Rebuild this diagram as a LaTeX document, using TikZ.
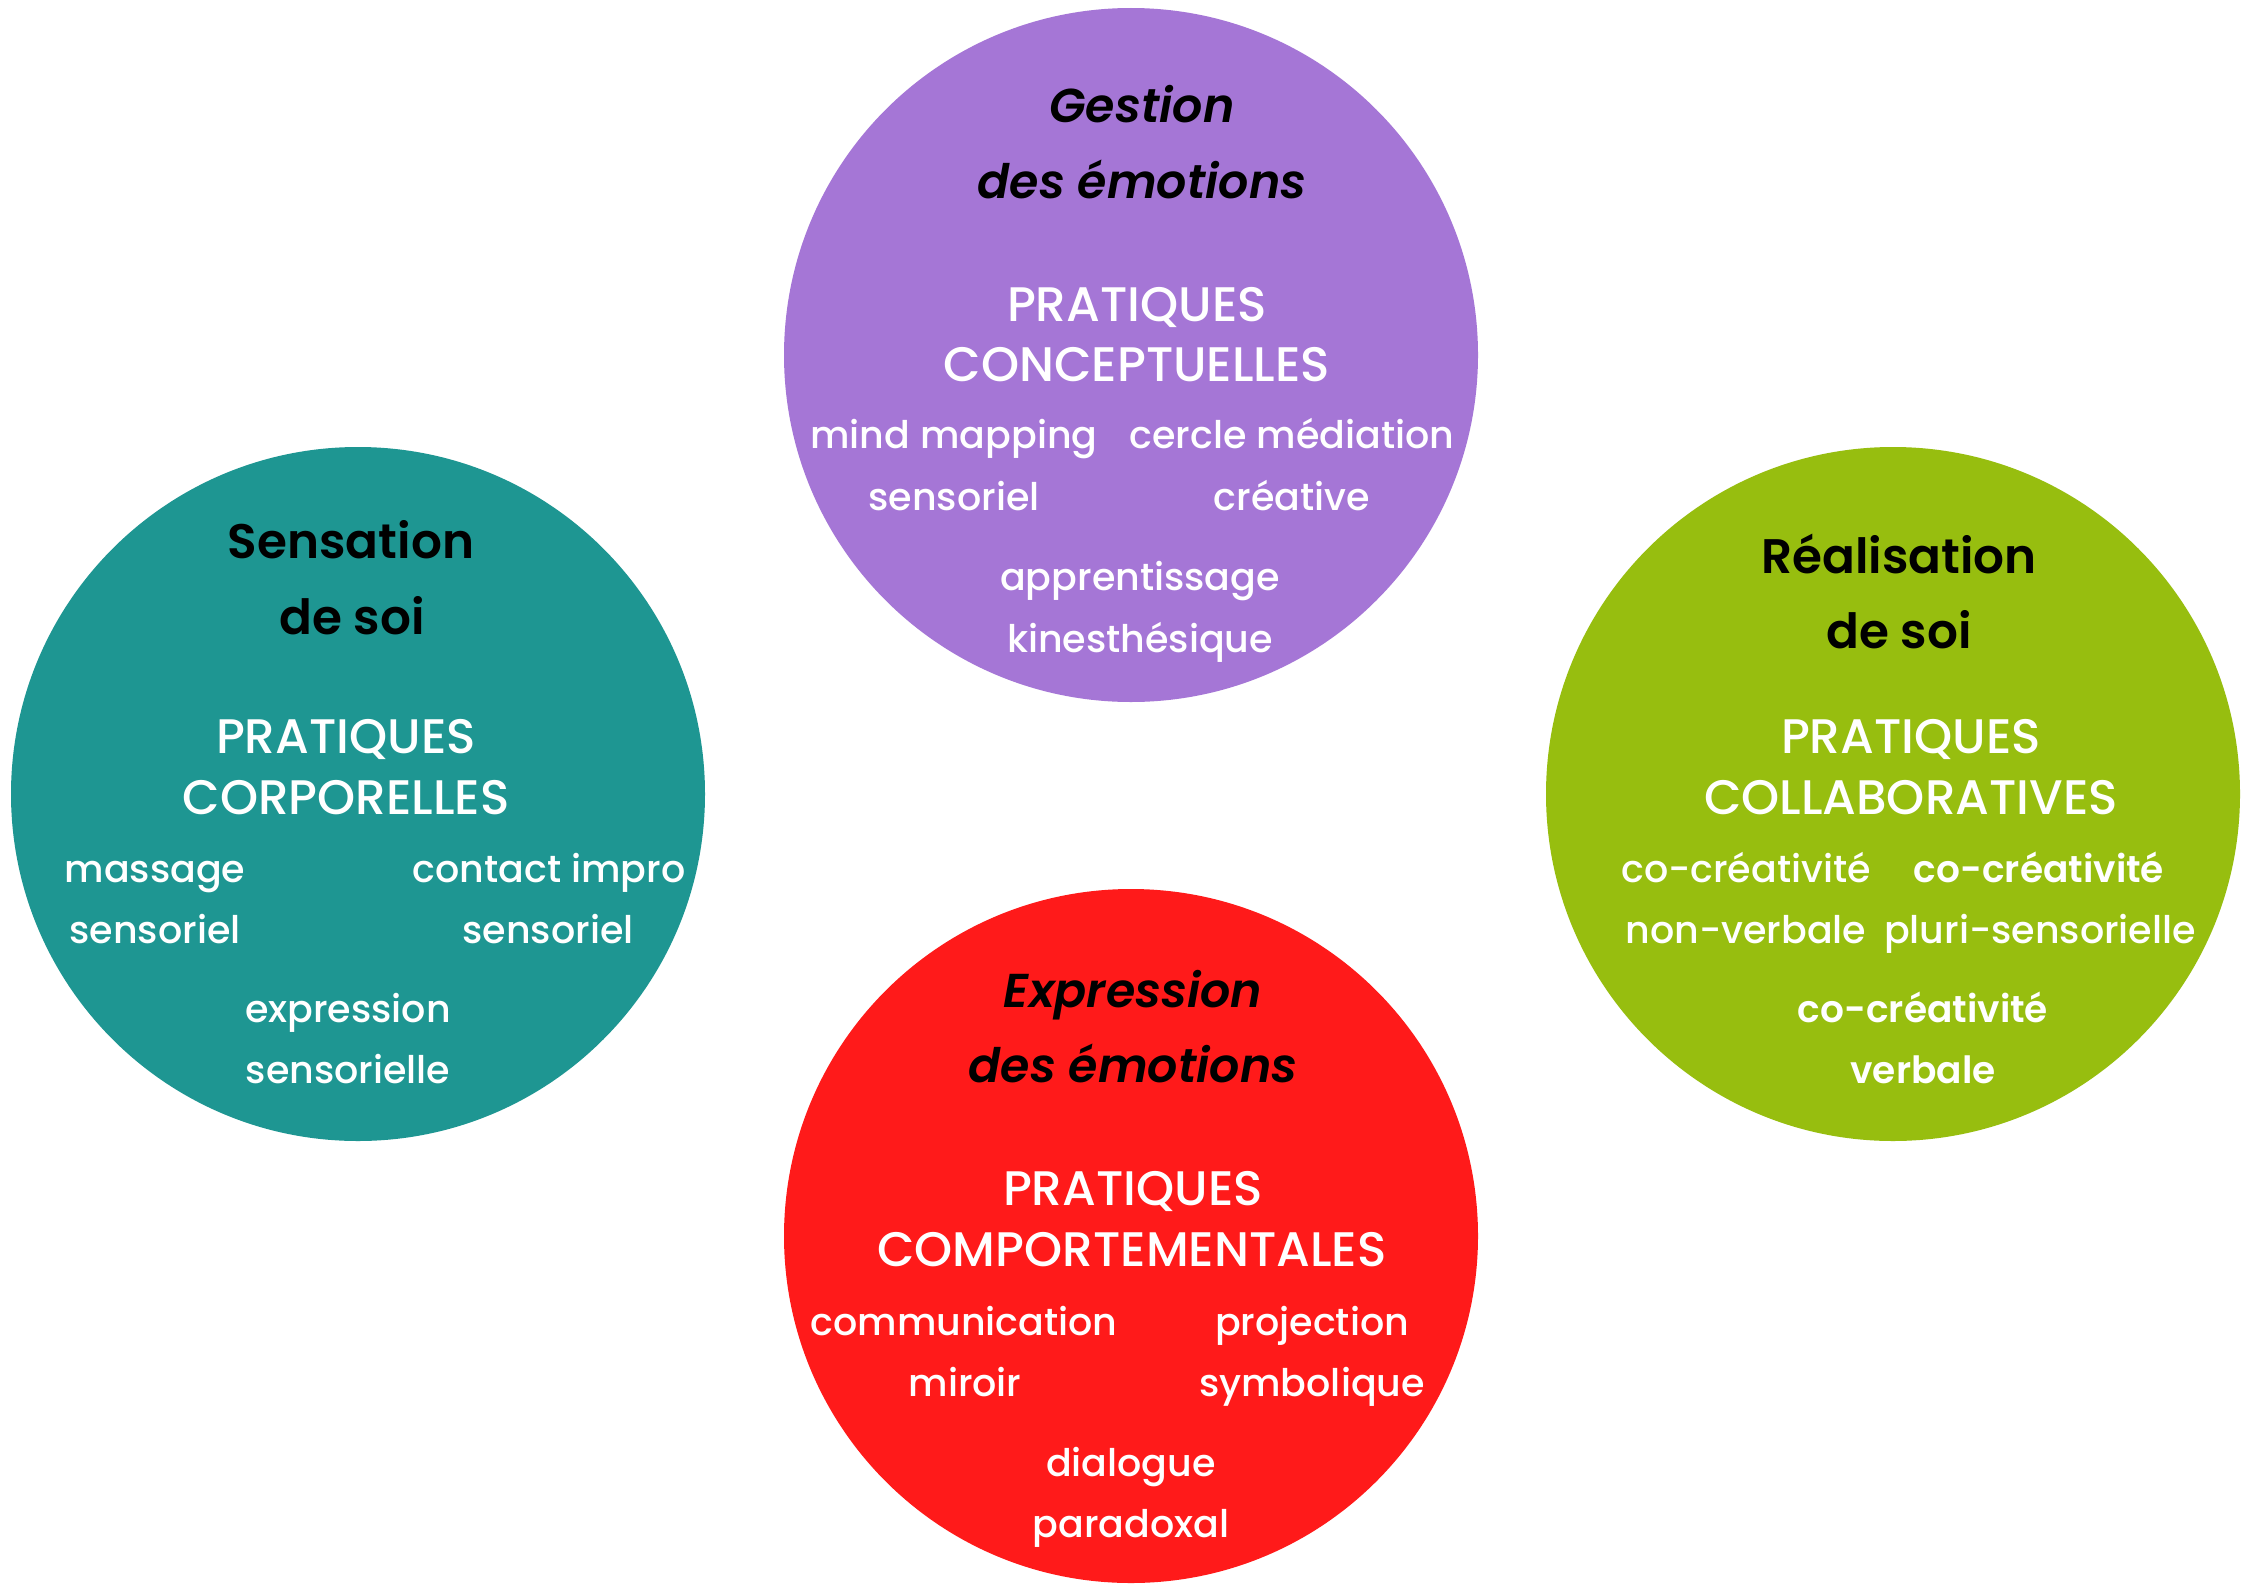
\documentclass[tikz,border=0pt]{standalone}
\usepackage{fontspec}
\setmainfont{Poppins}[BoldFont={Poppins SemiBold},BoldItalicFont={Poppins SemiBold Italic}]
\newfontfamily\pmed{Poppins Medium}
\definecolor{cpurple}{HTML}{A576D6}
\definecolor{cteal}{HTML}{1E9692}
\definecolor{cgreen}{HTML}{97BE0F}
\definecolor{cred}{HTML}{FF1A1A}
\begin{document}
\begin{tikzpicture}[x=1pt,y=-1pt,
  disc/.style={circle, minimum size=694pt, inner sep=0pt, draw=none},
  ttl/.style={anchor=base, text=black, font=\fontsize{48.5}{48.5}\selectfont\bfseries},
  ttli/.style={anchor=base, text=black, font=\fontsize{47.5}{47.5}\selectfont\bfseries\itshape},
  cat/.style={anchor=base, text=white, font=\fontsize{48.5}{48.5}\pmed\selectfont},
  item/.style={anchor=base, text=white, font=\fontsize{38}{38}\pmed\selectfont},
  itemb/.style={anchor=base, text=white, font=\fontsize{37.5}{37.5}\selectfont\bfseries}]
\useasboundingbox (0,0) rectangle (2245,1587);
\fill[white] (0,0) rectangle (2245,1587);
% discs
\node[disc, fill=cpurple] (gestion) at (1131,355) {};
\node[disc, fill=cteal] (sensation) at (358,794) {};
\node[disc, fill=cgreen] (realisation) at (1893,794) {};
\node[disc, fill=cred] (expression) at (1131,1236) {};
% Gestion des émotions
\node[ttli] (g1) at (1142,122) {Gestion};
\node[ttli] (g2) at (1142,198) {des émotions};
\node[cat] (g3) at (1137,321) {PRATIQUES};
\node[cat] (g4) at (1137,381) {CONCEPTUELLES};
\node[item] (g5) at (954,448) {mind mapping};
\node[item] (g6) at (954,510) {sensoriel};
\node[item] (g7) at (1292,448) {cercle médiation};
\node[item] (g8) at (1292,510) {créative};
\node[item] (g9) at (1140,590) {apprentissage};
\node[item] (g10) at (1140,652) {kinesthésique};
% Sensation de soi
\node[ttl] (s1) at (351,558) {Sensation};
\node[ttl] (s2) at (352,634) {de soi};
\node[cat] (s3) at (346,753) {PRATIQUES};
\node[cat] (s4) at (346,814) {CORPORELLES};
\node[item] (s5) at (155,882) {massage};
\node[item] (s6) at (155,943) {sensoriel};
\node[item] (s7) at (549,882) {contact impro};
\node[item] (s8) at (548,943) {sensoriel};
\node[item] (s9) at (348,1022) {expression};
\node[item] (s10) at (348,1083) {sensorielle};
% Réalisation de soi
\node[ttl] (r1) at (1899,573) {Réalisation};
\node[ttl] (r2) at (1899,648) {de soi};
\node[cat] (r3) at (1911,753) {PRATIQUES};
\node[cat] (r4) at (1911,814) {COLLABORATIVES};
\node[item] (r5) at (1746,882) {co-créativité};
\node[item] (r6) at (1746,943) {non-verbale};
\node[itemb] (r7) at (2039,882) {co-créativité};
\node[item] (r8) at (2040,943) {pluri-sensorielle};
\node[itemb] (r9) at (1923,1022) {co-créativité};
\node[itemb] (r10) at (1923,1083) {verbale};
% Expression des émotions
\node[ttli] (e1) at (1133,1007) {Expression};
\node[ttli] (e2) at (1133,1082) {des émotions};
\node[cat] (e3) at (1133,1205) {PRATIQUES};
\node[cat] (e4) at (1132,1266) {COMPORTEMENTALES};
\node[item] (e5) at (964,1335) {communication};
\node[item] (e6) at (965,1396) {miroir};
\node[item] (e7) at (1312,1335) {projection};
\node[item] (e8) at (1312,1396) {symbolique};
\node[item] (e9) at (1131,1476) {dialogue};
\node[item] (e10) at (1131,1537) {paradoxal};
\end{tikzpicture}
\end{document}
